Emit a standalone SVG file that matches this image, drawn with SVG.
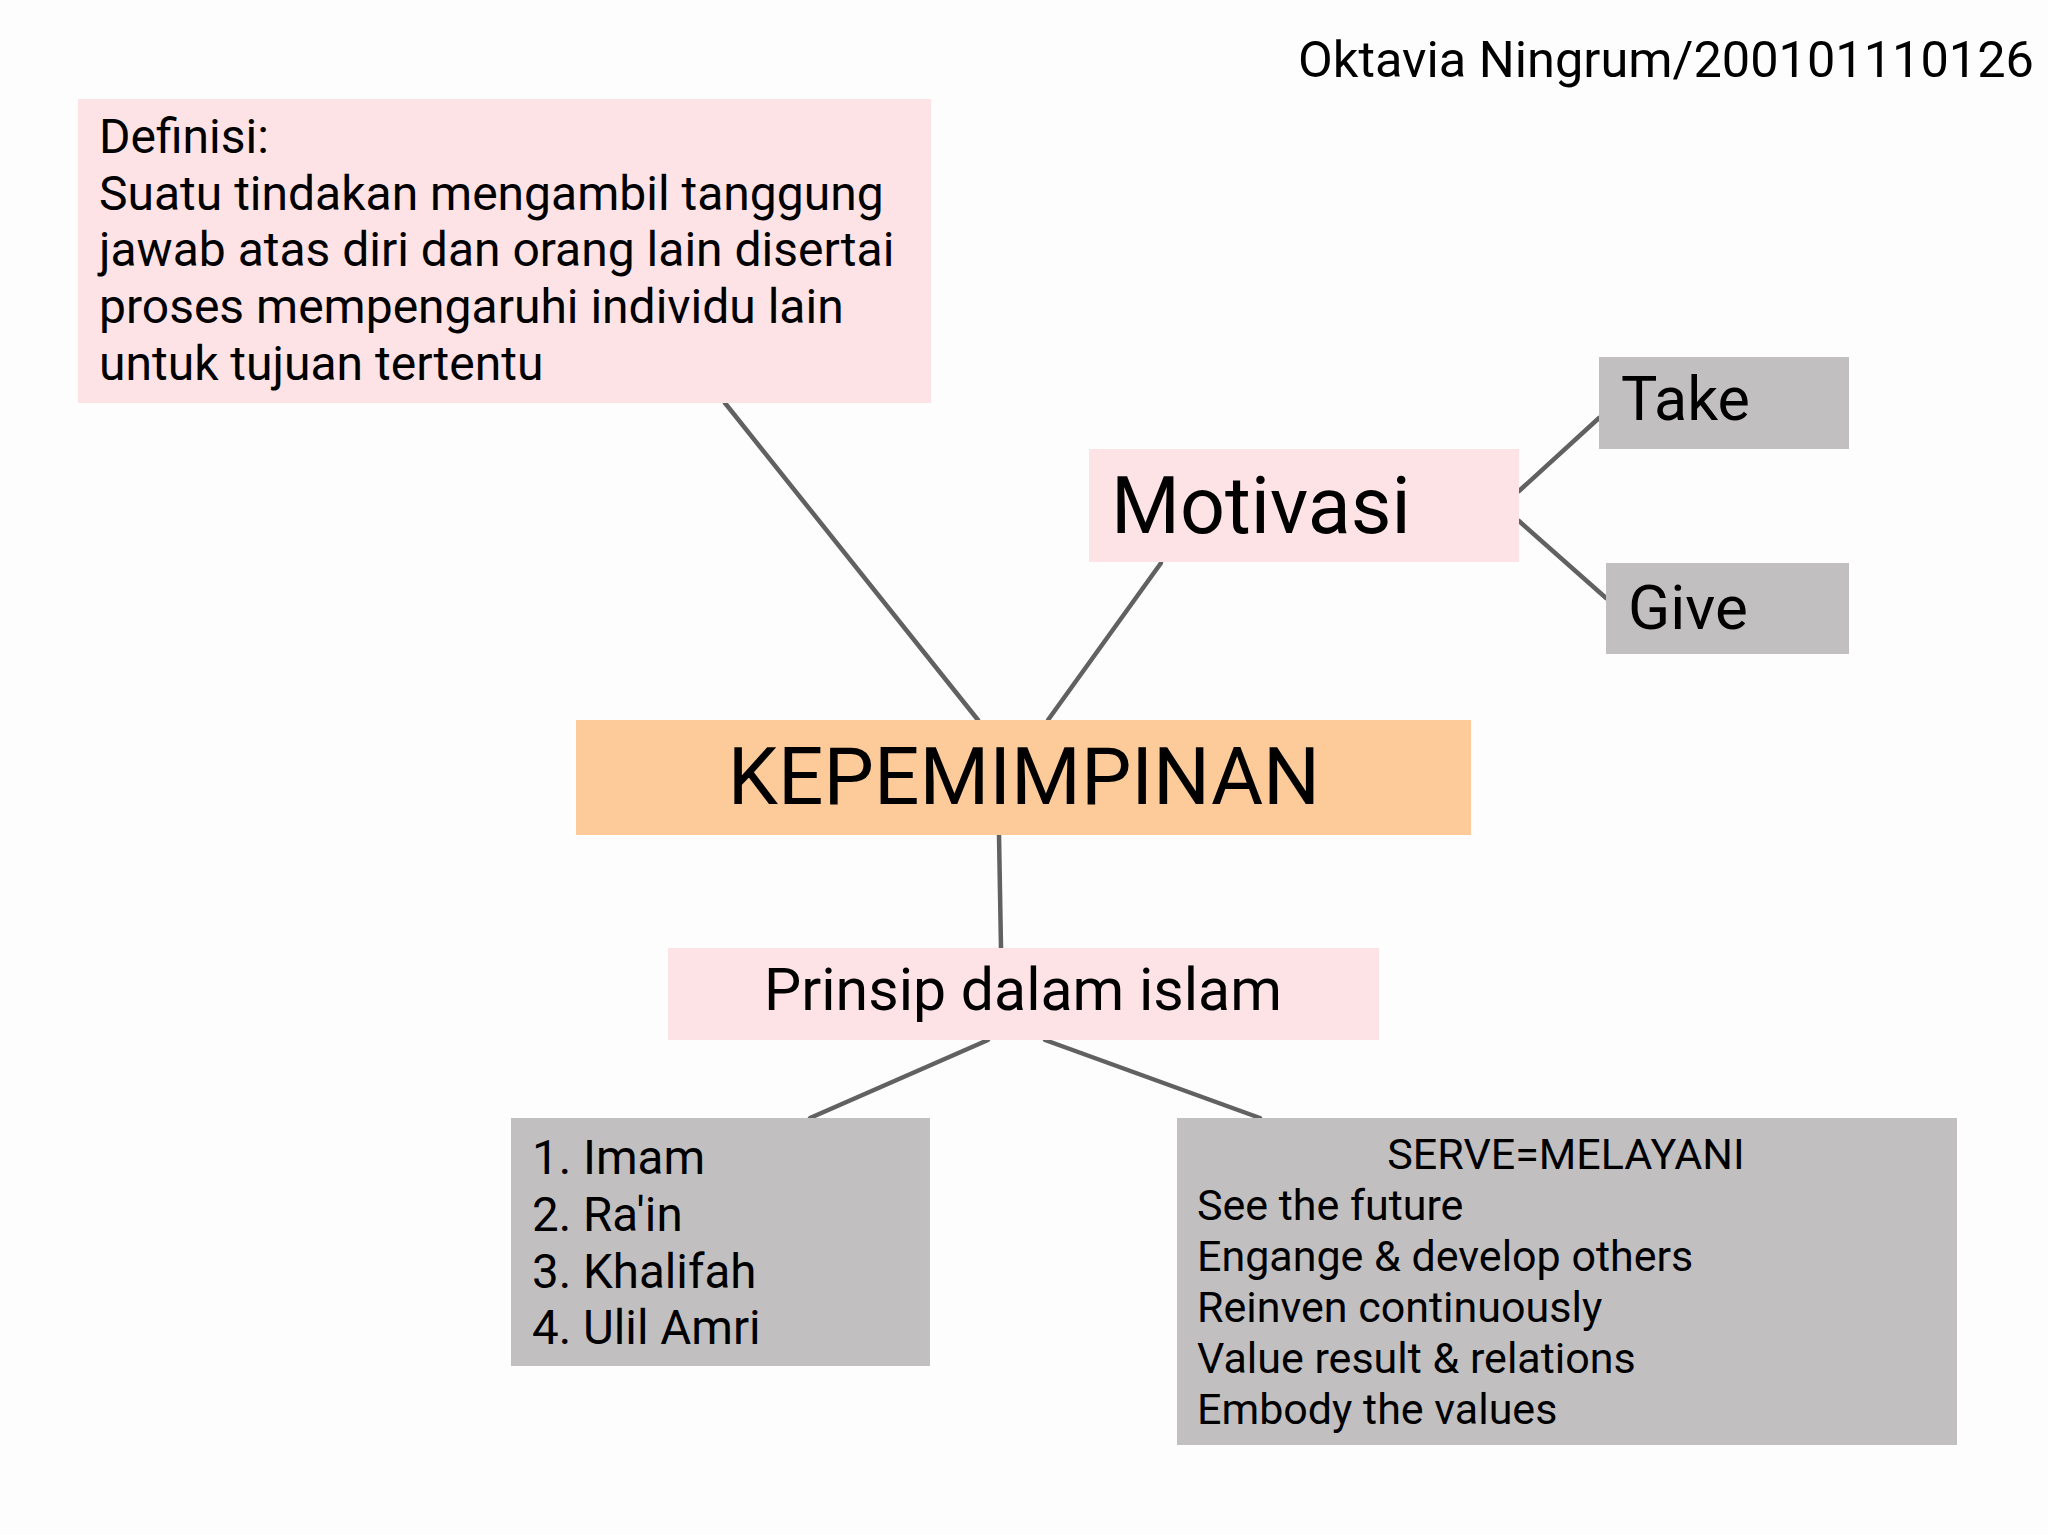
<svg xmlns="http://www.w3.org/2000/svg" width="2048" height="1535" viewBox="0 0 2048 1535">
<style>
text { font-family: Roboto, "Liberation Sans", sans-serif; fill: #000; }
.pink { fill: #fde3e5; }
.orange { fill: #fdcb9a; }
.gray { fill: #c1bfc0; }
.conn line { stroke: #616161; stroke-width: 4.5; stroke-linecap: round; }
</style>
<rect width="2048" height="1535" fill="#fdfdfd"/>
<text x="2034" y="77" font-size="50.5" text-anchor="end">Oktavia Ningrum/200101110126</text>
<g class="conn" id="connectors">
<line x1="725" y1="403" x2="978" y2="720"/>
<line x1="1161" y1="563" x2="1048" y2="720"/>
<line x1="1519" y1="491" x2="1599" y2="418"/>
<line x1="1519" y1="521" x2="1606" y2="598"/>
<line x1="999" y1="835" x2="1001" y2="948"/>
<line x1="988" y1="1040" x2="810" y2="1118"/>
<line x1="1045" y1="1040" x2="1260" y2="1118"/>
</g>
<g id="definisi">
<rect class="pink" x="78" y="99" width="853" height="304"/>
<text font-size="48" x="99">
<tspan x="99" y="153">Definisi:</tspan>
<tspan x="99" y="210">Suatu tindakan mengambil tanggung</tspan>
<tspan x="99" y="266">jawab atas diri dan orang lain disertai</tspan>
<tspan x="99" y="323">proses mempengaruhi individu lain</tspan>
<tspan x="99" y="380">untuk tujuan tertentu</tspan>
</text>
</g>
<g id="motivasi">
<rect class="pink" x="1089" y="449" width="430" height="113"/>
<text x="1111" y="533" font-size="79">Motivasi</text>
</g>
<g id="take">
<rect class="gray" x="1599" y="357" width="250" height="92"/>
<text x="1621" y="420" font-size="61">Take</text>
</g>
<g id="give">
<rect class="gray" x="1606" y="563" width="243" height="91"/>
<text x="1628" y="629" font-size="62">Give</text>
</g>
<g id="kepemimpinan">
<rect class="orange" x="576" y="720" width="895" height="115"/>
<text x="1024" y="804" font-size="80" text-anchor="middle">KEPEMIMPINAN</text>
</g>
<g id="prinsip">
<rect class="pink" x="668" y="948" width="711" height="92"/>
<text x="1023" y="1010" font-size="59" text-anchor="middle">Prinsip dalam islam</text>
</g>
<g id="imam">
<rect class="gray" x="511" y="1118" width="419" height="248"/>
<text font-size="47.5">
<tspan x="532" y="1174">1. Imam</tspan>
<tspan x="532" y="1231">2. Ra'in</tspan>
<tspan x="532" y="1288">3. Khalifah</tspan>
<tspan x="532" y="1344">4. Ulil Amri</tspan>
</text>
</g>
<g id="serve">
<rect class="gray" x="1177" y="1118" width="780" height="327"/>
<text x="1566" y="1169" font-size="43" text-anchor="middle">SERVE=MELAYANI</text>
<text font-size="43">
<tspan x="1197" y="1220">See the future</tspan>
<tspan x="1197" y="1271">Engange &amp; develop others</tspan>
<tspan x="1197" y="1322">Reinven continuously</tspan>
<tspan x="1197" y="1373">Value result &amp; relations</tspan>
<tspan x="1197" y="1424">Embody the values</tspan>
</text>
</g>
</svg>
